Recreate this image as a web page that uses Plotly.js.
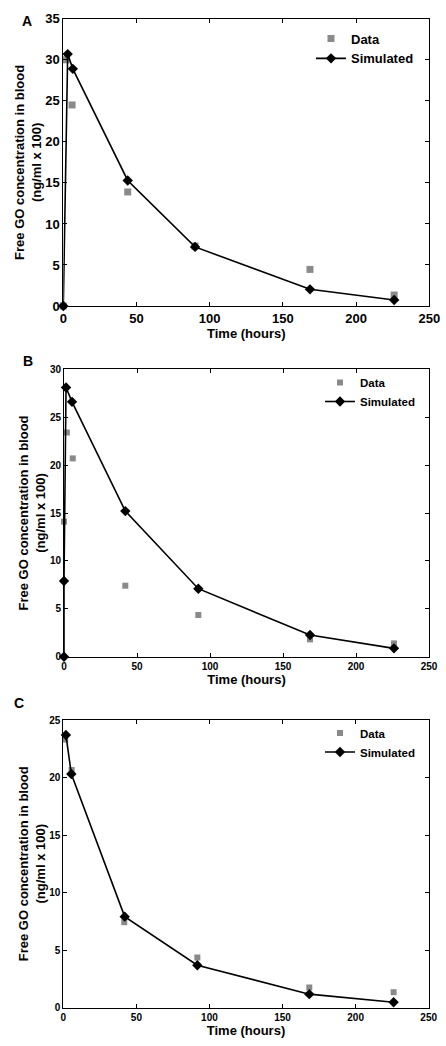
<!DOCTYPE html>
<html>
<head>
<meta charset="utf-8">
<script src="https://cdn.plot.ly/plotly-3.0.1.min.js"></script>
<style>
html,body{margin:0;padding:0;background:#fff;}
#chart{width:446px;height:1046px;}
</style>
</head>
<body>
<div id="chart"></div>
<script>
// Panel A
const timeA_data = [0, 2, 6, 44, 90, 168.5, 226];
const concA_data = [0, 30.0, 24.5, 13.9, 7.3, 4.46, 1.34];
const timeA_sim  = [0, 3, 6.5, 44, 90, 168.5, 226];
const concA_sim  = [0, 30.7, 28.9, 15.3, 7.2, 2.03, 0.73];
// Panel B
const timeB_data = [0, 2, 6, 42, 92, 168.5, 226];
const concB_data = [14.1, 23.4, 20.7, 7.41, 4.35, 1.81, 1.39];
const timeB_sim  = [0, 0, 1.4, 5.5, 42, 92, 168.5, 226];
const concB_sim  = [0, 7.9, 28.1, 26.6, 15.2, 7.1, 2.26, 0.87];
// Panel C
const timeC_data = [1.3, 5.7, 41.7, 91.7, 168.3, 226];
const concC_data = [23.3, 20.65, 7.42, 4.35, 1.74, 1.33];
const timeC_sim  = [1.8, 5.5, 42, 91.7, 168.3, 226];
const concC_sim  = [23.7, 20.3, 7.9, 3.68, 1.16, 0.46];

const xTicks = [0, 50, 100, 150, 200, 250];
const panelLabels = ['A', 'B', 'C'];
const seriesNames = ['Data', 'Simulated'];
const xTitle = 'Time (hours)';
const yTitle = 'Free GO concentration in blood<br>(ng/ml x 100)';

const FONT = 'Arial, "Liberation Sans", sans-serif';
const W = 446, H = 1046;
const grey = '#8a8a8a';

function dataTrace(x, y, xa, ya, lg, sz) {
  return {x: x, y: y, xaxis: xa, yaxis: ya, legend: lg, name: seriesNames[0],
    type: 'scatter', mode: 'markers', cliponaxis: false,
    marker: {symbol: 'square', size: sz, color: grey}};
}
function simTrace(x, y, xa, ya, lg, sz) {
  return {x: x, y: y, xaxis: xa, yaxis: ya, legend: lg, name: seriesNames[1],
    type: 'scatter', mode: 'lines+markers', cliponaxis: false,
    line: {color: '#000', width: 1.6},
    marker: {symbol: 'diamond', size: sz, color: '#000'}};
}

const traces = [
  dataTrace(timeA_data, concA_data, 'x', 'y', 'legend', 7),
  simTrace(timeA_sim, concA_sim, 'x', 'y', 'legend', 8),
  dataTrace(timeB_data, concB_data, 'x2', 'y2', 'legend2', 6),
  simTrace(timeB_sim, concB_sim, 'x2', 'y2', 'legend2', 8),
  dataTrace(timeC_data, concC_data, 'x3', 'y3', 'legend3', 6),
  simTrace(timeC_sim, concC_sim, 'x3', 'y3', 'legend3', 8)
];

function px(x) { return x / W; }
function py(y) { return 1 - y / H; }

function xAxis(dom, anchor, tickSize) {
  return {domain: dom, anchor: anchor, range: [0, 250], tickvals: xTicks,
    ticks: 'inside', ticklen: 4, tickcolor: '#000', showline: true, linecolor: '#000',
    linewidth: 1, mirror: 'allticks', showgrid: false, zeroline: false,
    tickfont: {family: FONT, size: tickSize, color: '#000', weight: 'bold'},
    title: {text: xTitle, font: {family: FONT, size: 13, color: '#000', weight: 'bold'}, standoff: 4}};
}
function yAxis(dom, anchor, maxv, tickSize, standoff) {
  return {domain: dom, anchor: anchor, range: [0, maxv], dtick: 5, tick0: 0,
    ticks: 'inside', ticklen: 4, tickcolor: '#000', showline: true, linecolor: '#000',
    linewidth: 1, mirror: 'allticks', showgrid: false, zeroline: false,
    tickfont: {family: FONT, size: tickSize, color: '#000', weight: 'bold'},
    title: {text: yTitle, font: {family: FONT, size: 13, color: '#000', weight: 'bold'}, standoff: standoff}};
}
function legendAt(x, y, size) {
  return {x: px(x), y: py(y), xanchor: 'left', yanchor: 'top', bgcolor: 'rgba(0,0,0,0)',
    borderwidth: 0, font: {family: FONT, size: size, color: '#000', weight: 'bold'},
    tracegroupgap: 0};
}

const layout = {
  width: W, height: H,
  margin: {l: 0, r: 0, t: 0, b: 0},
  paper_bgcolor: '#fff', plot_bgcolor: '#fff',
  font: {family: FONT, color: '#000'},
  xaxis:  xAxis([px(63.3), px(429.3)], 'y', 13),
  yaxis:  yAxis([py(306), py(18.8)], 'x', 35, 13, 0),
  xaxis2: xAxis([px(64), px(429)], 'y2', 10),
  yaxis2: yAxis([py(656.7), py(369.3)], 'x2', 30, 10, 1),
  xaxis3: xAxis([px(63.3), px(428.7)], 'y3', 10),
  yaxis3: yAxis([py(1007.5), py(720)], 'x3', 25, 10, 0),
  legend:  legendAt(311, 23.5, 13),
  legend2: legendAt(320, 368, 11.5),
  legend3: legendAt(320, 718.5, 11.5),
  showlegend: true,
  annotations: [
    {text: panelLabels[0], x: px(19.5), y: py(11), xref: 'paper', yref: 'paper', showarrow: false,
     font: {family: FONT, size: 14, color: '#000', weight: 'bold'}},
    {text: panelLabels[1], x: px(20.7), y: py(360.7), xref: 'paper', yref: 'paper', showarrow: false,
     font: {family: FONT, size: 14, color: '#000', weight: 'bold'}},
    {text: panelLabels[2], x: px(11.7), y: py(713.3), xref: 'paper', yref: 'paper', showarrow: false,
     font: {family: FONT, size: 14, color: '#000', weight: 'bold'}}
  ]
};

Plotly.newPlot('chart', traces, layout, {staticPlot: true, displayModeBar: false});
</script>
</body>
</html>
